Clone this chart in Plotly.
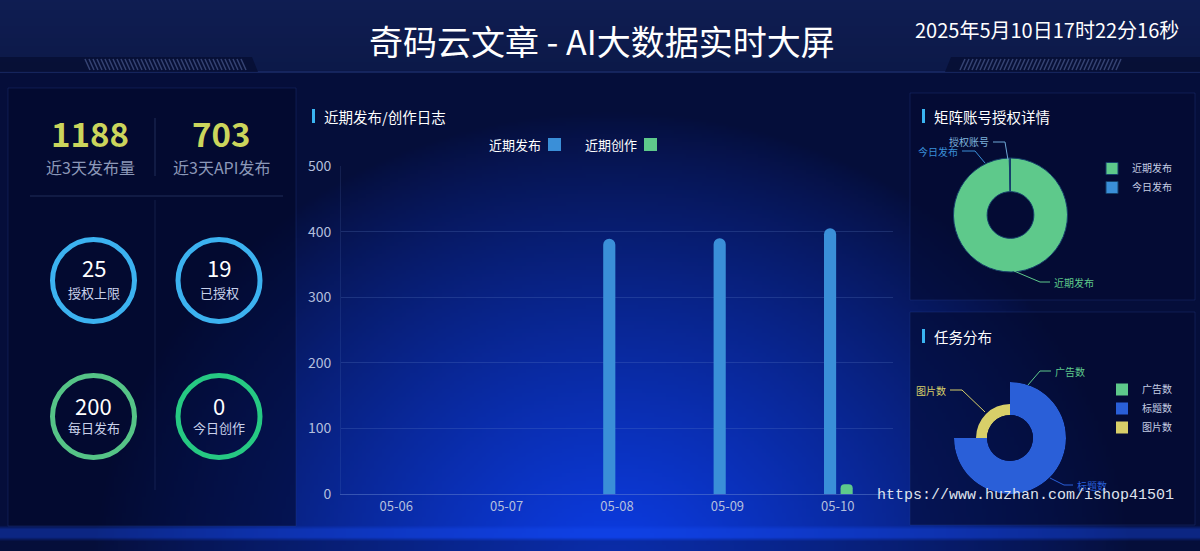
import math, zlib, struct, base64
import plotly.graph_objects as go

W, H = 1200, 551
FONT = "Noto Sans CJK SC, Noto Sans, sans-serif"

# ---------------- data ----------------
dates = ["05-06", "05-07", "05-08", "05-09", "05-10"]
recent_publish = [0, 0, 389, 390, 405]
recent_create = [0, 0, 0, 0, 15]
y_ticks = [0, 100, 200, 300, 400, 500]

kpi_values = ["1188", "703"]
kpi_labels = ["近3天发布量", "近3天API发布"]

ring_values = ["25", "19", "200", "0"]
ring_labels = ["授权上限", "已授权", "每日发布", "今日创作"]

auth_labels = ["近期发布", "今日发布"]
auth_values = [1188, 4]

task_labels = ["广告数", "标题数", "图片数"]
task_values = [0, 3, 1]

title_text = "奇码云文章 - AI大数据实时大屏"
time_text = "2025年5月10日17时22分16秒"
watermark = "https://www.huzhan.com/ishop41501"

# ---------------- helpers ----------------
def fx(x):
    return x / W

def fy(y):
    return 1 - y / H

def mix(a, b, t):
    return tuple(int(round(a[i] + (b[i] - a[i]) * t)) for i in range(3))

def png_uri(w, h, func):
    raw = bytearray()
    for yy in range(h):
        raw.append(0)
        for xx in range(w):
            raw += bytes(func(xx, yy))
    def chunk(t, d):
        c = struct.pack(">I", len(d)) + t + d
        return c + struct.pack(">I", zlib.crc32(t + d) & 0xffffffff)
    png = (b"\x89PNG\r\n\x1a\n"
           + chunk(b"IHDR", struct.pack(">IIBBBBB", w, h, 8, 2, 0, 0, 0))
           + chunk(b"IDAT", zlib.compress(bytes(raw), 9))
           + chunk(b"IEND", b""))
    return "data:image/png;base64," + base64.b64encode(png).decode()

SC = 4
def bg_pixel(x, y):
    px, py = x * SC, y * SC
    base = (5, 14, 58)
    dx = (px - 610) / 520.0
    dy = (py - 580) / 470.0
    d = math.hypot(dx, dy)
    t = max(0.0, 1 - d) ** 0.85
    c = mix(base, (12, 62, 236), t)
    if py < 72:
        c = mix((15, 29, 82), (12, 25, 72), py / 72.0)
    elif 527 <= py < 540:
        c = mix(c, (22, 74, 240), 0.4)
    elif py >= 540:
        c = mix(c, (5, 14, 58), 0.35)
    return c

bg_img = png_uri(W // SC, H // SC + 1, bg_pixel)

shapes = []
annotations = []

def ann(x, y, text, size, color, xanchor="center", family=FONT):
    annotations.append(dict(x=fx(x), y=fy(y), xref="paper", yref="paper", text=text, showarrow=False,
                            xanchor=xanchor, yanchor="middle",
                            font=dict(size=size, color=color, family=family)))

# panels overlays
for (x0, x1, y0, y1, fill) in [(8, 296, 88, 526, "rgba(2,8,40,0.55)"),
                               (910, 1195, 93, 300, "rgba(3,10,48,0.6)"),
                               (910, 1195, 312, 525, "rgba(3,10,48,0.6)")]:
    shapes.append(dict(type="rect", xref="paper", yref="paper", x0=fx(x0), x1=fx(x1), y0=fy(y1), y1=fy(y0),
                       fillcolor=fill, line=dict(color="rgba(40,70,150,0.3)", width=1), layer="below"))

# header decorations
shapes.append(dict(type="line", xref="paper", yref="paper", x0=0, x1=1, y0=fy(72), y1=fy(72),
                   line=dict(color="#24377a", width=1), layer="below"))
shapes.append(dict(type="path", xref="paper", yref="paper", layer="below",
                   path=f"M 0 {fy(57)} L {fx(252)} {fy(57)} L {fx(258)} {fy(72)} L 0 {fy(72)} Z",
                   fillcolor="rgba(6,14,50,0.8)", line=dict(width=0)))
shapes.append(dict(type="path", xref="paper", yref="paper", layer="below",
                   path=f"M {fx(945)} {fy(72)} L {fx(951)} {fy(57)} L 1 {fy(57)} L 1 {fy(72)} Z",
                   fillcolor="rgba(6,14,50,0.8)", line=dict(width=0)))
hatch = []
for k in range(0, 160, 4):
    hatch.append(f"M {fx(90 + k)} {fy(70)} L {fx(85 + k)} {fy(59)}")
for k in range(0, 160, 4):
    hatch.append(f"M {fx(960 + k)} {fy(70)} L {fx(965 + k)} {fy(59)}")
shapes.append(dict(type="path", xref="paper", yref="paper", layer="below", path=" ".join(hatch),
                   line=dict(color="rgba(110,130,190,0.45)", width=1.5)))

# header texts
ann(602, 40, title_text, 34, "#ffffff")
ann(1047, 30, time_text, 20, "#ffffff")

# panel titles with accent bars
for (tx, ty, txt) in [(322, 116, "近期发布/创作日志"), (932, 116, "矩阵账号授权详情"), (932, 336, "任务分布")]:
    shapes.append(dict(type="rect", xref="paper", yref="paper", x0=fx(tx - 10), x1=fx(tx - 7),
                       y0=fy(ty + 7), y1=fy(ty - 7), fillcolor="#3ab4f2", line=dict(width=0)))
    ann(tx, ty, txt, 14.5, "#ffffff", xanchor="left")

# KPI block
kpi_x = [90, 221]
for i in range(2):
    ann(kpi_x[i], 133, f"<b>{kpi_values[i]}</b>", 33, "#cbd55c")
    ann(kpi_x[i], 167, kpi_labels[i], 16, "#8c98b8")
shapes.append(dict(type="line", xref="paper", yref="paper", x0=fx(155), x1=fx(155), y0=fy(118), y1=fy(176),
                   line=dict(color="rgba(90,110,170,0.35)", width=1)))
shapes.append(dict(type="line", xref="paper", yref="paper", x0=fx(30), x1=fx(283), y0=fy(196), y1=fy(196),
                   line=dict(color="rgba(90,110,170,0.35)", width=1)))
shapes.append(dict(type="line", xref="paper", yref="paper", x0=fx(155), x1=fx(155), y0=fy(200), y1=fy(490),
                   line=dict(color="rgba(90,110,170,0.2)", width=1)))

ring_centers = [(93.5, 280.5), (219, 280.5), (93.5, 416.5), (219, 416.5)]
ring_num_dy = [-13.5, -13.5, -11.5, -11.5]
ring_lab_dy = [11.5, 11.5, 10.5, 10.5]
ring_colors = ["#3cb2f0", "#3cb2f0", "#55c487", "#26c983"]
R = 41
for i, (cx, cy) in enumerate(ring_centers):
    shapes.append(dict(type="circle", xref="paper", yref="paper", x0=fx(cx - R), x1=fx(cx + R),
                       y0=fy(cy + R), y1=fy(cy - R), line=dict(color=ring_colors[i], width=5)))
    ann(cx, cy + ring_num_dy[i], ring_values[i], 22, "#ffffff")
    ann(cx, cy + ring_lab_dy[i], ring_labels[i], 13, "#c9d1ea")

# ---------------- bar chart ----------------
fig = go.Figure()
fig.add_trace(go.Bar(x=dates, y=recent_publish, name="近期发布", width=0.11, offset=-0.125,
                     marker=dict(color="#3a8fd8", cornerradius=6, line=dict(width=0)),
                     showlegend=False, xaxis="x", yaxis="y"))
fig.add_trace(go.Bar(x=dates, y=recent_create, name="近期创作", width=0.11, offset=0.025,
                     marker=dict(color="#5ec98b", cornerradius=4, line=dict(width=0)),
                     showlegend=False, xaxis="x", yaxis="y"))

# custom legend (text then square, as in reference)
for (tx, sx, txt, col) in [(543, 548, "近期发布", "#3a8fd8"), (639, 644, "近期创作", "#5ec98b")]:
    ann(tx, 144, txt, 13, "#ffffff", xanchor="right")
    shapes.append(dict(type="rect", xref="paper", yref="paper", x0=fx(sx), x1=fx(sx + 13),
                       y0=fy(151), y1=fy(138), fillcolor=col, line=dict(width=0)))

# ---------------- pie 1 ----------------
fig.add_trace(go.Pie(labels=auth_labels, values=auth_values, hole=0.41, sort=False, direction="clockwise",
                     rotation=0, textinfo="none", hoverinfo="label+value",
                     marker=dict(colors=["#5ec98b", "#3a8fd8"], line=dict(color="#15406a", width=1)),
                     domain=dict(x=[fx(953.5), fx(1067.5)], y=[fy(272), fy(158)]),
                     legend="legend", showlegend=True))

def leader(points, color):
    path = "M " + " L ".join(f"{fx(a)} {fy(b)}" for a, b in points)
    shapes.append(dict(type="path", xref="paper", yref="paper", path=path, line=dict(color=color, width=1)))

leader([(1014, 271), (1040, 282), (1050, 282)], "#5ec98b")
ann(1052, 282, "近期发布", 10, "#5ec98b", xanchor="left")
leader([(985, 163), (975, 151), (962, 151)], "#3a8fd8")
ann(960, 151, "今日发布", 10, "#3a8fd8", xanchor="right")
leader([(1008, 160), (1005, 142), (993, 142)], "#6fa9d6")
ann(991, 141, "授权账号", 10, "#7fb3dc", xanchor="right")

# ---------------- pie 2 (rose) ----------------
task_colors = ["#5ec98b", "#2a5fd8", "#d8cf69"]
total = sum(task_values)
start = 0.0
for lab, v, col in zip(task_labels, task_values, task_colors):
    wdeg = v / total * 360.0
    fig.add_trace(go.Barpolar(r=[v], theta=[start + wdeg / 2], width=[max(wdeg, 0.0001)], name=lab,
                              marker=dict(color=col, line=dict(width=0)), subplot="polar",
                              legend="legend2", showlegend=True, hoverinfo="name+r"))
    start += wdeg

leader([(1028, 385), (1040, 371), (1051, 371)], "#5ec98b")
ann(1053, 371, "广告数", 10, "#5ec98b", xanchor="left")
leader([(985, 412), (962, 390), (950, 390)], "#d8cf69")
ann(948, 390, "图片数", 10, "#d8cf69", xanchor="right")
leader([(1050, 478), (1064, 485), (1073, 485)], "#2a5fd8")
ann(1075, 485, "标题数", 10, "#2a5fd8", xanchor="left")

# watermark
ann(1025, 495, watermark, 15, "#dfe3ee", family="Liberation Mono, DejaVu Sans Mono, monospace")

fig.update_layout(
    width=W, height=H, margin=dict(l=0, r=0, t=0, b=0, autoexpand=False),
    paper_bgcolor="#050d38", plot_bgcolor="rgba(0,0,0,0)",
    images=[dict(source=bg_img, xref="paper", yref="paper", x=0, y=1, sizex=1, sizey=1,
                 sizing="stretch", xanchor="left", yanchor="top", layer="below")],
    xaxis=dict(type="category", domain=[fx(341), fx(893)], anchor="y", showgrid=False, showline=True,
               linecolor="rgba(110,140,210,0.45)", ticks="", tickfont=dict(size=13, color="#b3bfdd", family=FONT),
               fixedrange=True),
    yaxis=dict(domain=[fy(494), fy(166)], anchor="x", range=[0, 500], tickvals=y_ticks,
               showgrid=True, gridcolor="rgba(110,140,210,0.22)", gridwidth=1, zeroline=False,
               showline=True, linecolor="rgba(110,140,210,0.15)",
               tickfont=dict(size=14, color="#b3bfdd", family=FONT), ticklabelstandoff=6, fixedrange=True),
    barmode="overlay",
    polar=dict(domain=dict(x=[fx(954), fx(1066)], y=[fy(494), fy(382)]), hole=23 / 56,
               bgcolor="rgba(0,0,0,0)", bargap=0,
               radialaxis=dict(visible=False, range=[0, max(task_values)]),
               angularaxis=dict(visible=False, rotation=90, direction="clockwise")),
    legend=dict(x=fx(1092), y=fy(154), xanchor="left", yanchor="top", bgcolor="rgba(0,0,0,0)",
                font=dict(size=10, color="#c5cde3", family=FONT), tracegroupgap=0),
    legend2=dict(x=fx(1102), y=fy(375), xanchor="left", yanchor="top", bgcolor="rgba(0,0,0,0)",
                 font=dict(size=10, color="#c5cde3", family=FONT), tracegroupgap=0),
    shapes=shapes, annotations=annotations,
    font=dict(family=FONT),
)

fig.write_html("out.html", config={"responsive": False, "displayModeBar": False},
               post_script="document.body.style.margin='0px';document.body.style.overflow='hidden';")
